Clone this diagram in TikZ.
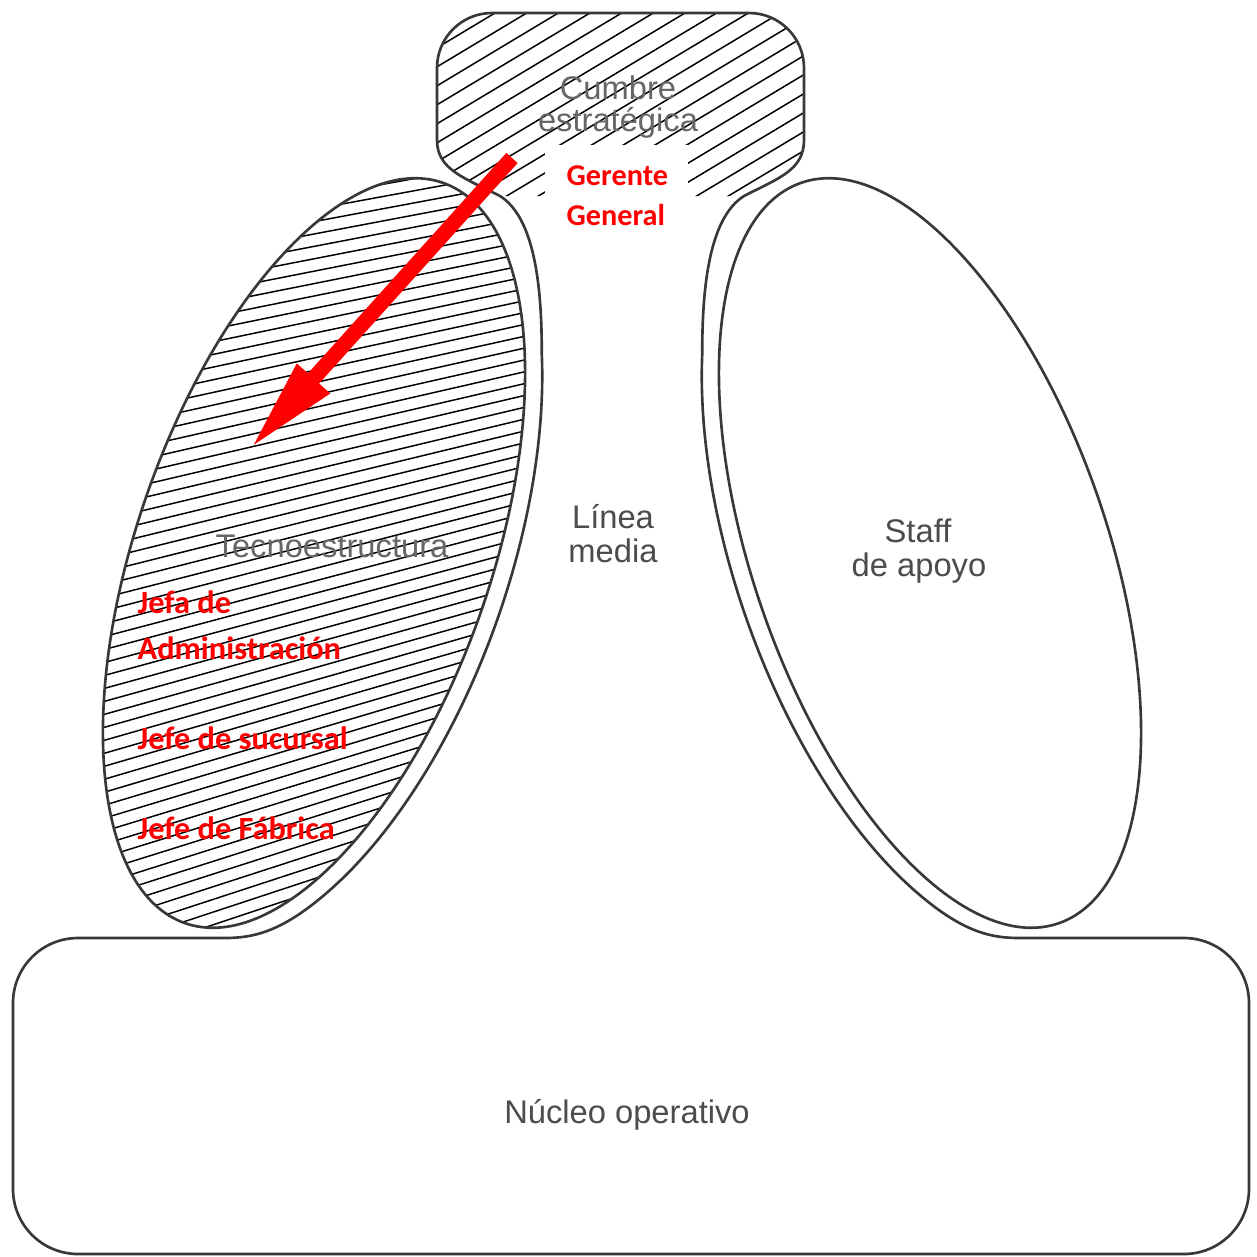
\documentclass[tikz,border=0pt]{standalone}
\usepackage{fontspec}
\setmainfont{Liberation Sans}
\newfontfamily\carlito{Carlito}
\usetikzlibrary{arrows.meta}
\definecolor{lbl}{gray}{0.30}
\definecolor{lbllight}{gray}{0.40}
\definecolor{outl}{gray}{0.22}
\definecolor{redlbl}{RGB}{255,0,0}
\begin{document}
\begin{tikzpicture}[x=0.01cm, y=-0.01cm,
  outline/.style={draw=outl, line width=0.75pt, line join=round},
  hatchline/.style={draw=black, line width=0.42pt},
  graylbl/.style={text=lbl, font=\fontsize{9.3}{10}\selectfont, inner sep=0pt, anchor=base},
  redtxt/.style={text=redlbl, font=\carlito\bfseries\fontsize{9.2}{12.8}\selectfont, inner sep=0pt, anchor=base west, align=left},
  redsmall/.style={redtxt, font=\carlito\bfseries\fontsize{8.6}{11}\selectfont},
  arrowred/.style={draw=redlbl, line width=4.3pt, -{Triangle[length=27pt, width=11.4pt]}}
]
\fill[white] (0,0) rectangle (1257,1257);
\useasboundingbox (0,0) rectangle (1257,1257);

% hatching of the strategic apex
\begin{scope}
\clip (437,140) .. controls (437,170) and (465,178) .. (500,196) -- (744,196)
  .. controls (779,178) and (804,170) .. (804,140) -- (804,68)
  .. controls (804,37.6) and (779.4,13) .. (749,13) -- (492,13)
  .. controls (461.6,13) and (437,37.6) .. (437,68) -- cycle;
\foreach \i in {0,...,22} {
  \draw[hatchline] (420,{20+19*\i}) -- (820,{20+19*\i-240});
}
\end{scope}

% hatching of the technostructure
\begin{scope}
\clip[rotate around={70.8:(314,553)}] (314,553) ellipse[x radius=392, y radius=177];
\foreach \i in {0,...,62} {
  \pgfmathsetmacro\yc{172+12.4*\i}
  \pgfmathsetmacro\ta{tan(10+(\yc-172)*9/770)}
  \draw[hatchline] (80,{\yc+234*\ta}) -- (570,{\yc-256*\ta});
}
\end{scope}

% inner ellipses
\draw[outline, rotate around={70.8:(314,553)}] (314,553) ellipse[x radius=392, y radius=177];
\draw[outline, rotate around={-70.8:(930,553)}] (930,553) ellipse[x radius=392, y radius=177];

% whole outer contour
\draw[outline] (437,140) .. controls (437,170) and (465,178) .. (500,196)
  .. controls (530,215) and (542,270) .. (541.75,353.2)
  -- plot[domain=50:140, samples=60, variable=\t]
     ({314 + 410*cos(\t)*0.3289 + 195*sin(\t)*0.9444}, {553 - 410*cos(\t)*0.9444 + 195*sin(\t)*0.3289})
  .. controls (283.5,930.8) and (255,938) .. (225,938)
  -- (78,938) .. controls (42.1,938) and (13,967.1) .. (13,1003)
  -- (13,1189) .. controls (13,1224.9) and (42.1,1254) .. (78,1254)
  -- (1184,1254) .. controls (1219.9,1254) and (1249,1224.9) .. (1249,1189)
  -- (1249,1003) .. controls (1249,967.1) and (1219.9,938) .. (1184,938)
  -- (1019,938) .. controls (989,938) and (960.5,930.8) .. (914.92,890.8)
  -- plot[domain=50:140, samples=60, variable=\t]
     ({930 - 410*cos(190-\t)*0.3289 - 195*sin(190-\t)*0.9444}, {553 - 410*cos(190-\t)*0.9444 + 195*sin(190-\t)*0.3289})
  .. controls (702,270) and (714,215) .. (744,196)
  .. controls (779,178) and (804,170) .. (804,140)
  -- (804,68) .. controls (804,37.6) and (779.4,13) .. (749,13)
  -- (492,13) .. controls (461.6,13) and (437,37.6) .. (437,68) -- cycle;

% gray labels
\node[graylbl, text=lbllight] (cumbre1) at (618,99) {Cumbre};
\node[graylbl, text=lbllight] (cumbre2) at (618,131) {estratégica};
\node[graylbl, text=lbllight] (tecno) at (332,557) {Tecnoestructura};
\node[graylbl] (linea1) at (613,528) {Línea};
\node[graylbl] (linea2) at (613,562) {media};
\node[graylbl] (staff1) at (918,542) {Staff};
\node[graylbl] (staff2) at (919,576) {de apoyo};
\node[graylbl] (nucleo) at (627,1123) {Núcleo operativo};

% red labels
\fill[white] (545,145) rectangle (688,240);
\node[redsmall] (gerente) at (566,185) {Gerente};
\node[redsmall] (general) at (566,225) {General};
\node[redtxt] (jefa1) at (137,613) {Jefa de};
\node[redtxt] (jefa2) at (137,659) {Administración};
\node[redtxt] (sucursal) at (137,749) {Jefe de sucursal};
\node[redtxt] (fabrica) at (137,839) {Jefe de Fábrica};

% red arrow
\coordinate (arrT) at (512,158);
\coordinate (arrP) at (250,449);
\draw[arrowred] (arrT) -- (arrP);
\end{tikzpicture}
\end{document}
